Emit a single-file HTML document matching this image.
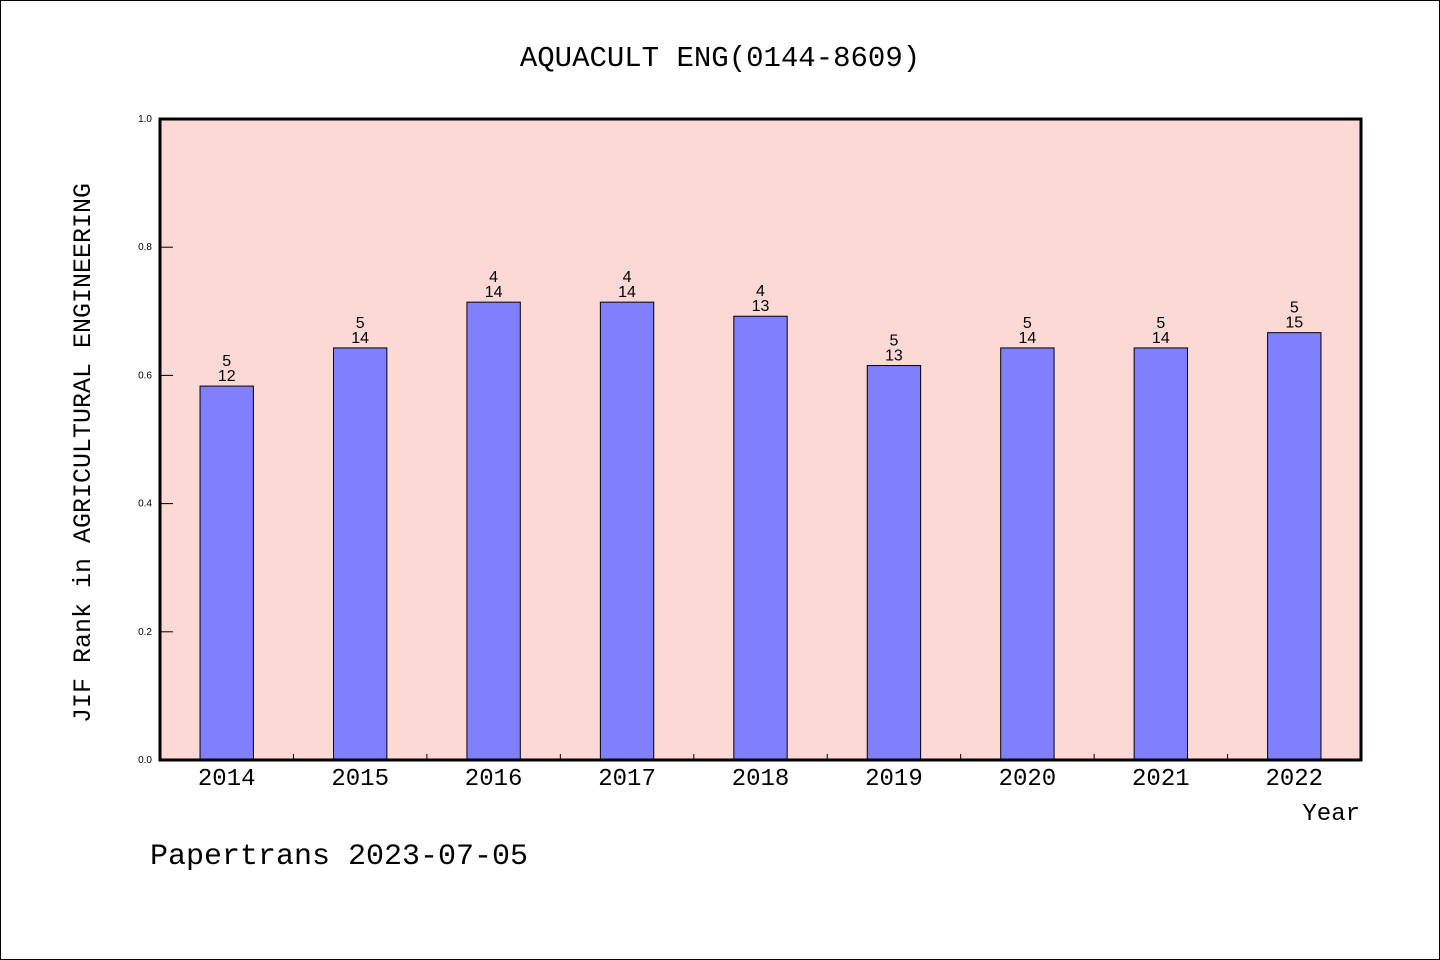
<!DOCTYPE html>
<html><head><meta charset="utf-8"><style>
html,body{margin:0;padding:0;background:#fff}
svg{display:block}
.mono{font-family:"Liberation Mono","WenQuanYi Zen Hei",monospace}
.sans{font-family:"Liberation Sans",sans-serif}
</style></head><body>
<svg id="chart" width="1440" height="960" xmlns="http://www.w3.org/2000/svg">
<rect x="0.5" y="0.5" width="1439" height="959" fill="#fff" stroke="#000"/>
<text x="720" y="66" text-anchor="middle" font-size="29" class="mono">AQUACULT ENG(0144-8609)</text>
<rect x="160" y="119" width="1201" height="641" fill="#fdd9d6"/>
<g id="bars"></g>
<g id="yaxis"></g>
<g id="xaxis"></g>
<rect x="160" y="119" width="1201" height="641" fill="none" stroke="#000" stroke-width="3"/>
<text transform="translate(90,453) rotate(-90)" text-anchor="middle" font-size="25" class="mono">JIF Rank in AGRICULTURAL ENGINEERING</text>
<text x="1360" y="820" text-anchor="end" font-size="24" class="mono">Year</text>
<text x="150" y="864" font-size="30" class="mono">Papertrans 2023-07-05</text>
</svg>
<script>
const years = ["2014","2015","2016","2017","2018","2019","2020","2021","2022"];
const ranks = [5,5,4,4,4,5,5,5,5];
const totals = [12,14,14,14,13,13,14,14,15];
const yTicks = [0.0,0.2,0.4,0.6,0.8,1.0];

const NS="http://www.w3.org/2000/svg";
const X0=160,X1=1361,Y0=760,Y1=119;
const band=(X1-X0)/years.length;
const xC=i=>X0+band*(i+0.5);
const yS=v=>Y0-(Y0-Y1)*v;
function mk(tag,attrs,parent,text){const e=document.createElementNS(NS,tag);for(const k in attrs)e.setAttribute(k,attrs[k]);if(text!==undefined)e.textContent=text;parent.appendChild(e);return e;}
const gb=document.getElementById('bars'),gy=document.getElementById('yaxis'),gx=document.getElementById('xaxis');
years.forEach((yr,i)=>{
  const v=(totals[i]-ranks[i])/totals[i];
  const w=band*0.4,x=xC(i)-w/2,y=yS(v);
  const r=mk('rect',{x:x,y:y,width:w,height:Y0-y,fill:'#8080ff',stroke:'#000','stroke-width':1},gb);
  
  
  const t1=mk('text',{x:xC(i),y:y-20,'text-anchor':'middle','font-size':16,class:'sans'},gb,String(ranks[i]));
  
  
  const t2=mk('text',{x:xC(i),y:y-5,'text-anchor':'middle','font-size':16,class:'sans'},gb,String(totals[i]));
  
  
  const xl=mk('text',{x:xC(i),y:785,'text-anchor':'middle','font-size':24,class:'mono'},gx,yr);
  
  
  if(i>0){const tk=mk('line',{x1:X0+band*i,x2:X0+band*i,y1:Y0,y2:Y0-6,stroke:'#000','stroke-width':1},gx);
  
  }
});
yTicks.forEach(v=>{
  const y=yS(v);
  const tk=mk('line',{x1:X0,x2:X0+13,y1:y,y2:y,stroke:'#000','stroke-width':1},gy);
  
  
  const tl=mk('text',{x:152,y:y+3,'text-anchor':'end','font-size':10,class:'sans'},gy,v.toFixed(1));
  
  
});
</script>
</body></html>
